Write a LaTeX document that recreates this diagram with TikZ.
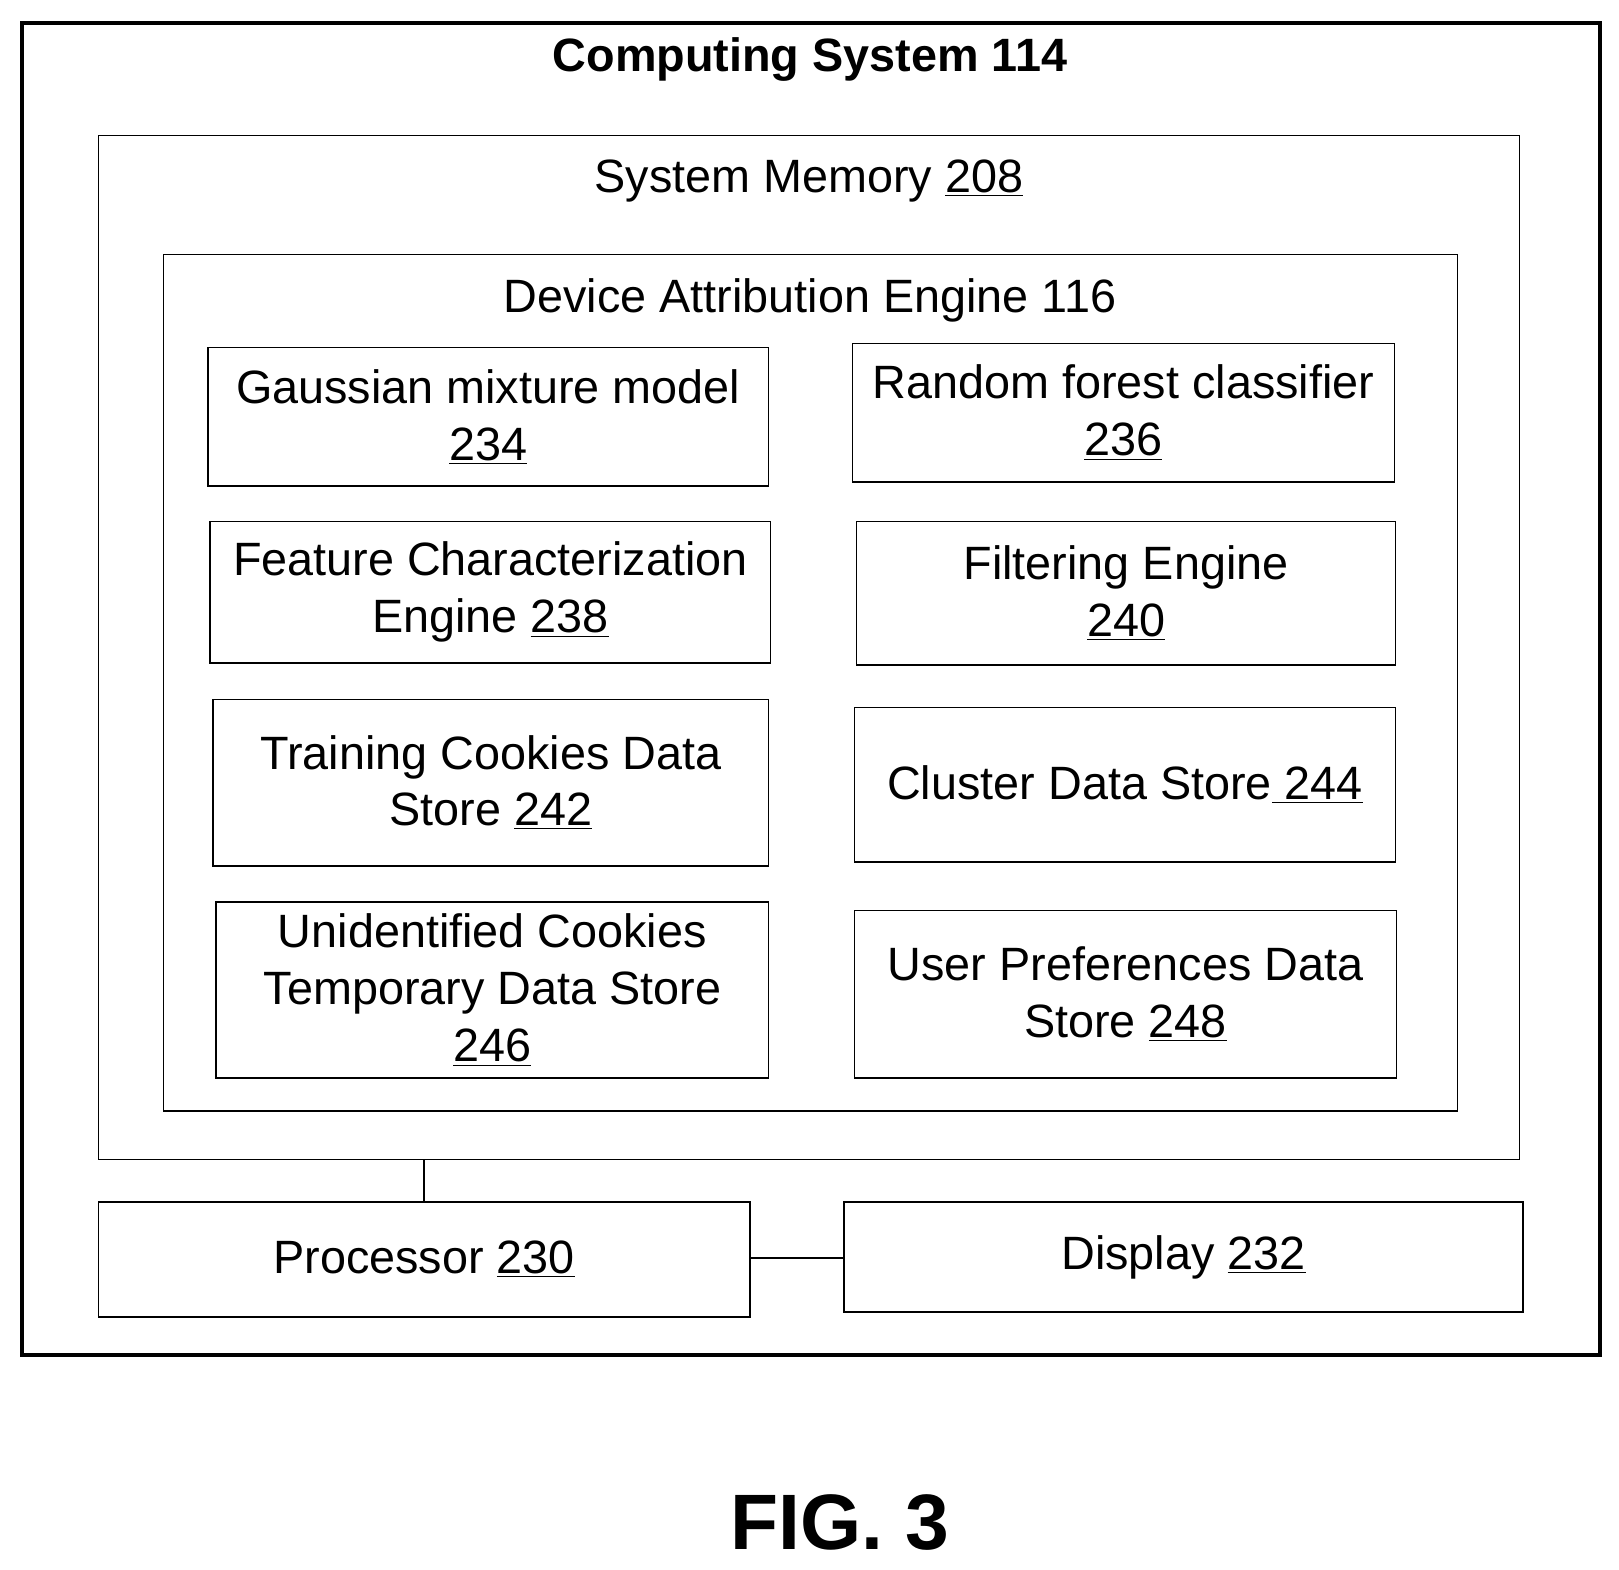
\documentclass[tikz,border=0pt]{standalone}
\usepackage{fontspec}
\setmainfont{Liberation Sans}
\begin{document}
\begin{tikzpicture}[x=0.5pt,y=-0.5pt,
  bx/.style={draw,line width=0.75pt,inner sep=0pt,align=center,font=\fontsize{22.6}{27.5}\selectfont},
  ln/.style={line width=0.9pt}]
\useasboundingbox (0,0) rectangle (1565,1517);
\newcommand\mybox[6]{\node[bx,minimum width={(#4-#2)*0.5pt},minimum height={(#5-#3)*0.5pt}] (#1) at ({(#2+#4)/2},{(#3+#5)/2+2}) {#6};}
\draw[line width=2pt] (21,22) rectangle (1547,1310);
\node (title) at (783,58) {\fontsize{22.6}{25}\selectfont\bfseries Computing System 114};
\node[draw,line width=0.75pt,minimum width=687pt,minimum height=495pt] (mem) at (782,626) {};
\node[font=\fontsize{22.6}{25}\selectfont] (memt) at (782,175) {System Memory \underline{208}};
\node[draw,line width=0.75pt,minimum width=625.5pt,minimum height=414pt] (dae) at (783.5,660) {};
\node[font=\fontsize{22.6}{25}\selectfont] (daet) at (783,290) {Device Attribution Engine 116};
\mybox{gmm}{201}{334}{743}{468}{Gaussian mixture model\\\underline{234}}
\mybox{rf}{824}{330}{1348}{464}{Random forest classifier\\\underline{236}}
\mybox{fce}{203}{502}{745}{639}{Feature Characterization\\Engine \underline{238}}
\mybox{fe}{828}{502}{1349}{641}{Filtering Engine\\\underline{240}}
\mybox{tc}{206}{674}{743}{835}{Training Cookies Data\\Store \underline{242}}
\mybox{cds}{826}{682}{1349}{831}{Cluster Data Store\underline{ 244}}
\mybox{uc}{209}{870}{743}{1040}{Unidentified Cookies\\Temporary Data Store\\\underline{246}}
\mybox{up}{826}{878}{1350}{1040}{User Preferences Data\\Store \underline{248}}
\mybox{proc}{95}{1160}{725}{1271}{Processor \underline{230}}
\mybox{disp}{816}{1160}{1472}{1266}{Display \underline{232}}
\draw[ln] (mem.south -| 410,0) -- (proc.north -| 410,0);
\draw[ln] (proc.east |- 0,1216) -- (disp.west |- 0,1216);
\node[inner sep=0pt] (fig) at (812,1472) {\fontsize{38}{40}\selectfont\bfseries FIG. 3};
\end{tikzpicture}
\end{document}
